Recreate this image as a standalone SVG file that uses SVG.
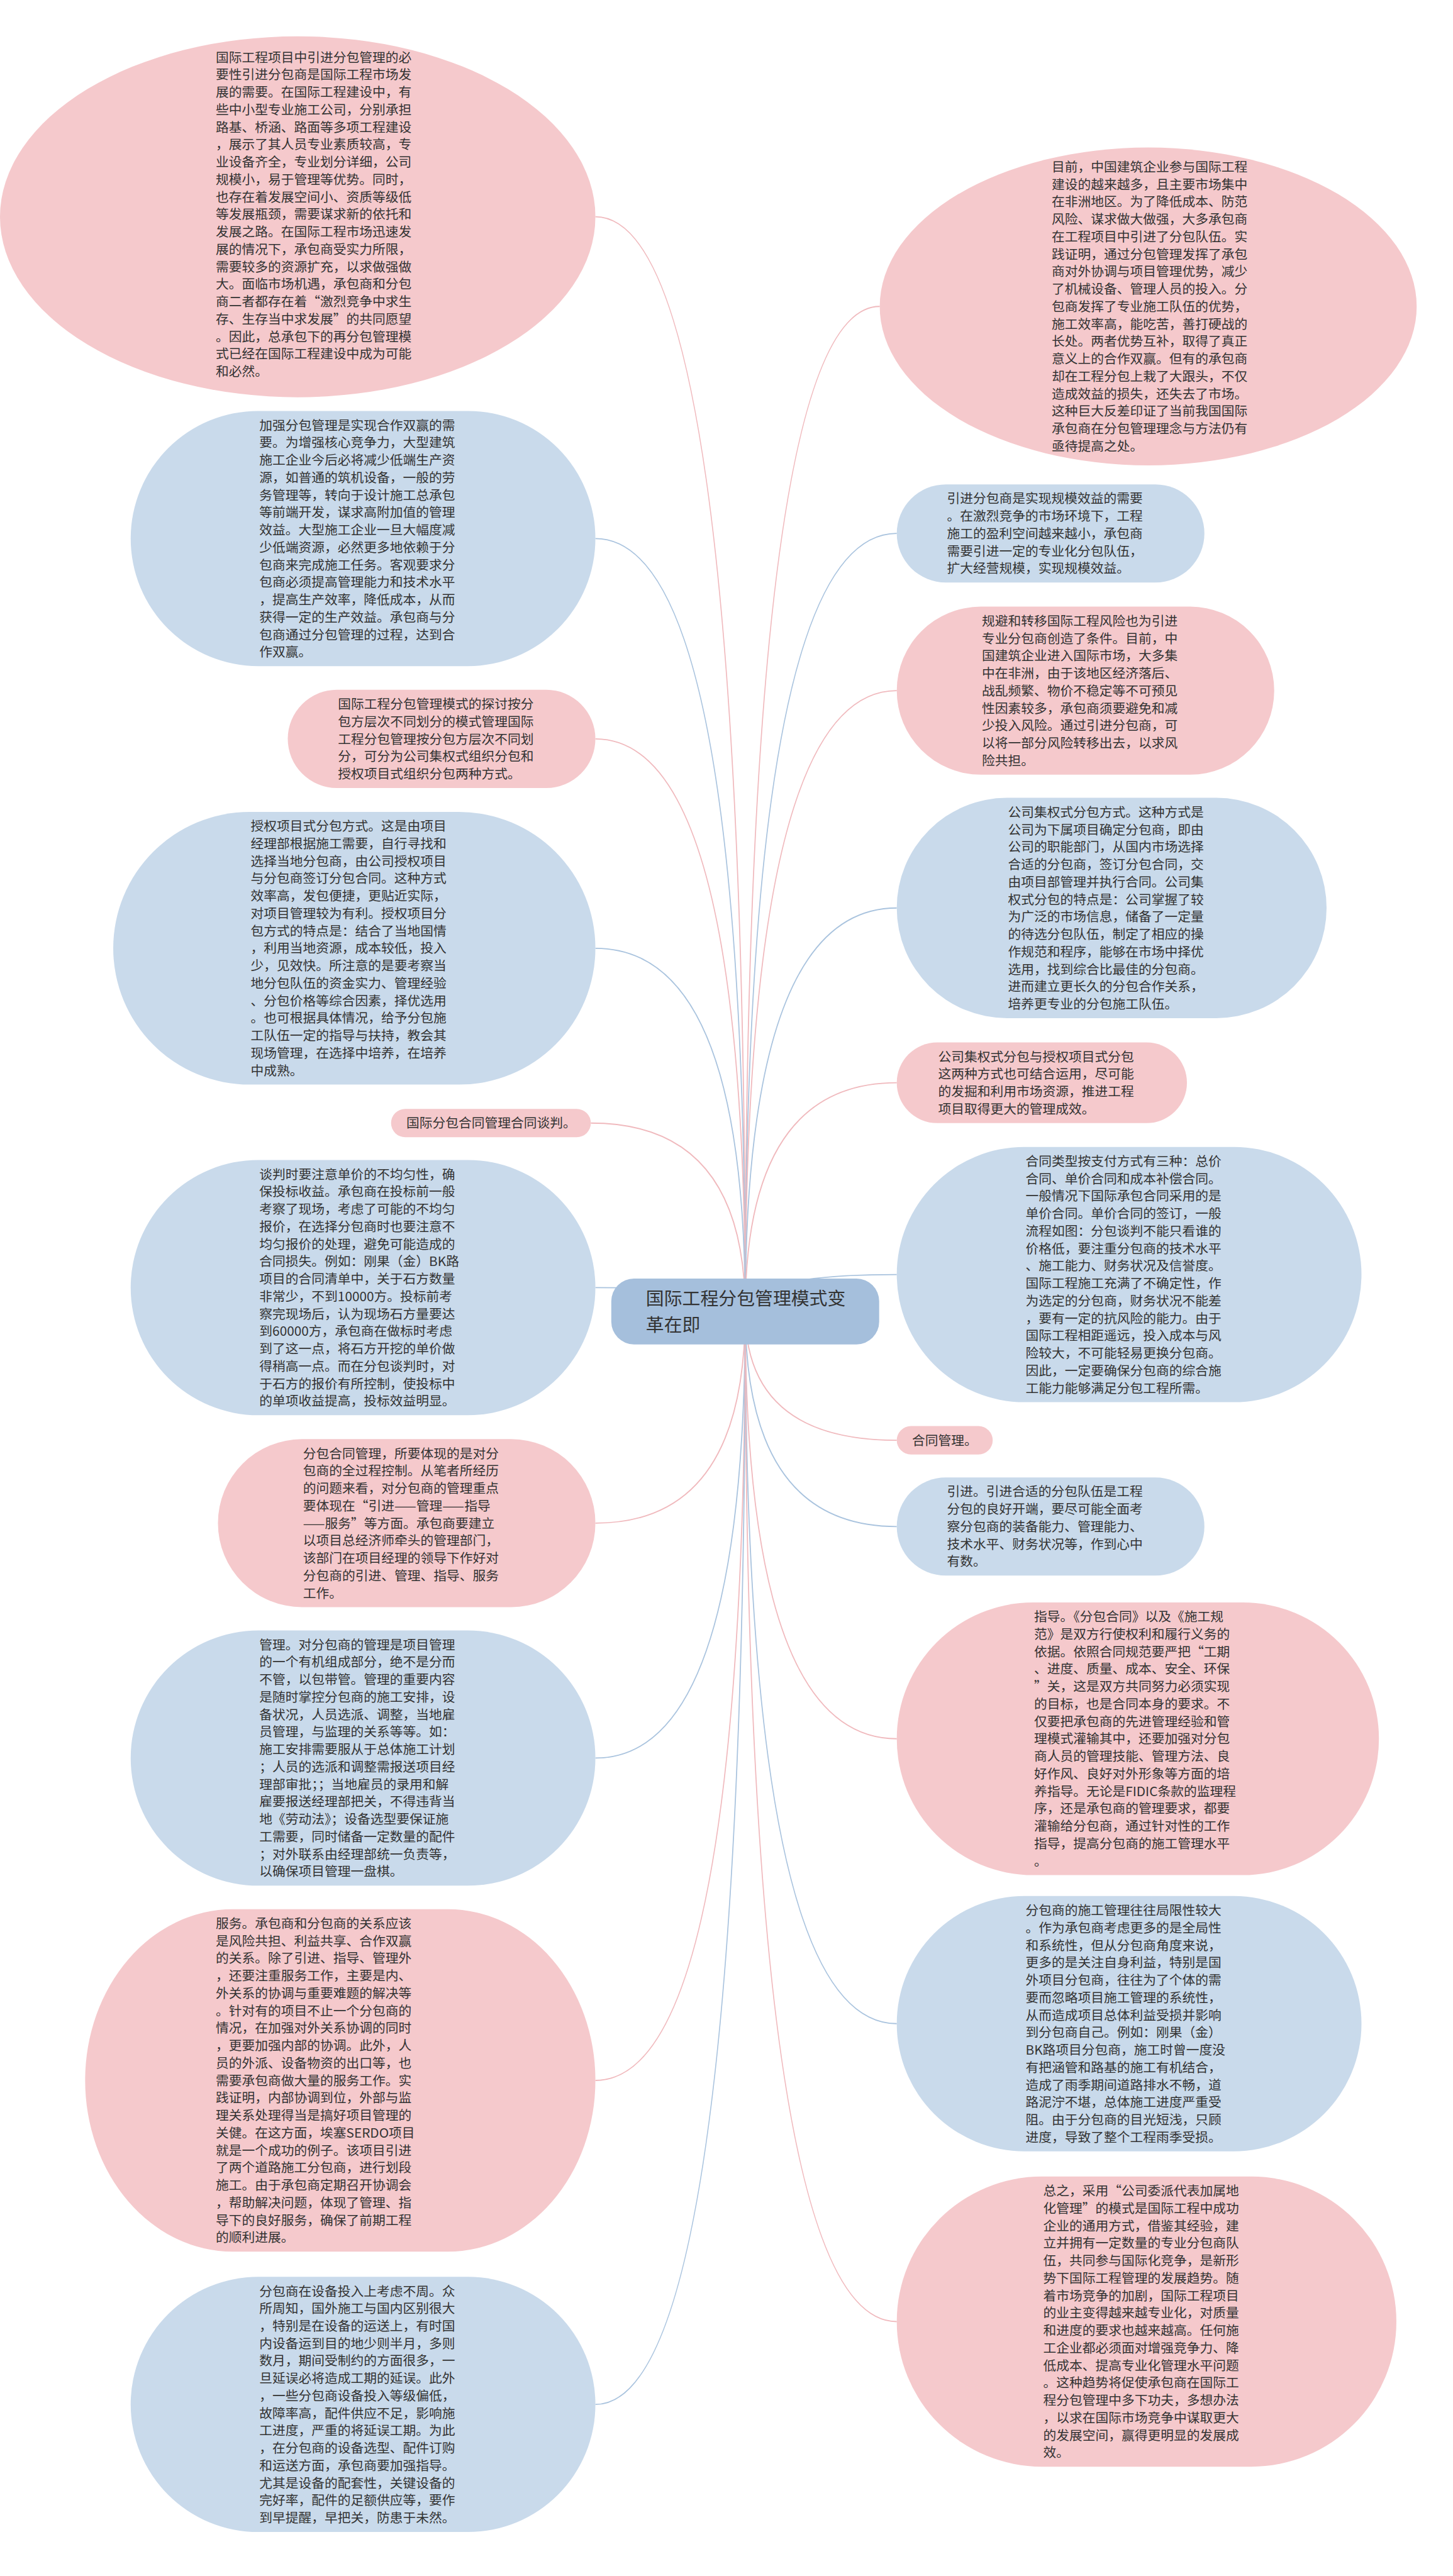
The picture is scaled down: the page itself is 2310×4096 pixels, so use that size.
<svg xmlns="http://www.w3.org/2000/svg" width="2310" height="4096" viewBox="0 0 2310 4096">
<style>
.p{fill:#f5c9cc}
.b{fill:#c9daeb}
.c{fill:#a5bfdc}
.t{font-family:"Noto Sans CJK SC","Noto Sans",sans-serif;font-size:23px;fill:#333}
.ct{font-family:"Noto Sans CJK SC","Noto Sans",sans-serif;font-size:32px;fill:#333}
.lp{fill:none;stroke:#f0b9bd;stroke-width:2}
.lb{fill:none;stroke:#a9c3de;stroke-width:2}
</style>
<rect width="2310" height="4096" fill="#ffffff"/>
<g transform="scale(0.90234)">
<g id="connectors">
<path class="lp" d="M1313,2311 Q1313,382 1049,382"/>
<path class="lb" d="M1313,2311 Q1313,949 1049,949"/>
<path class="lp" d="M1313,2311 Q1313,1302 1049,1302"/>
<path class="lb" d="M1313,2311 Q1313,1671 1049,1671"/>
<path class="lp" d="M1313,2311 Q1313,1979 1041,1979"/>
<path class="lb" d="M1313,2311 Q1313,2269 1049,2269"/>
<path class="lp" d="M1313,2311 Q1313,2684 1049,2684"/>
<path class="lb" d="M1313,2311 Q1313,3098 1049,3098"/>
<path class="lp" d="M1313,2311 Q1313,3666 1049,3666"/>
<path class="lb" d="M1313,2311 Q1313,4237 1049,4237"/>
<path class="lp" d="M1313,2311 Q1313,540 1550,540"/>
<path class="lb" d="M1313,2311 Q1313,940 1580,940"/>
<path class="lp" d="M1313,2311 Q1313,1217 1580,1217"/>
<path class="lb" d="M1313,2311 Q1313,1600 1580,1600"/>
<path class="lp" d="M1313,2311 Q1313,1908 1580,1908"/>
<path class="lb" d="M1313,2311 Q1313,2246 1580,2246"/>
<path class="lp" d="M1313,2311 Q1313,2538 1580,2538"/>
<path class="lb" d="M1313,2311 Q1313,2690 1580,2690"/>
<path class="lp" d="M1313,2311 Q1313,3064 1580,3064"/>
<path class="lb" d="M1313,2311 Q1313,3566 1580,3566"/>
<path class="lp" d="M1313,2311 Q1313,4091 1580,4091"/>
</g>
<g id="center">
<rect class="c" x="1077" y="2253" width="472" height="116" rx="40"/>
<text class="ct" x="1138" y="2300">国际工程分包管理模式变<tspan x="1138" dy="46">革在即</tspan></text>
</g>
<g id="L1">
<ellipse class="p" cx="524.5" cy="382" rx="524.5" ry="318"/>
<text class="t" x="380" y="109.25"><tspan x="380" dy="0">国际工程项目中引进分包管理的必</tspan><tspan x="380" dy="30.75">要性引进分包商是国际工程市场发</tspan><tspan x="380" dy="30.75">展的需要。在国际工程建设中，有</tspan><tspan x="380" dy="30.75">些中小型专业施工公司，分别承担</tspan><tspan x="380" dy="30.75">路基、桥涵、路面等多项工程建设</tspan><tspan x="380" dy="30.75">，展示了其人员专业素质较高，专</tspan><tspan x="380" dy="30.75">业设备齐全，专业划分详细，公司</tspan><tspan x="380" dy="30.75">规模小，易于管理等优势。同时，</tspan><tspan x="380" dy="30.75">也存在着发展空间小、资质等级低</tspan><tspan x="380" dy="30.75">等发展瓶颈，需要谋求新的依托和</tspan><tspan x="380" dy="30.75">发展之路。在国际工程市场迅速发</tspan><tspan x="380" dy="30.75">展的情况下，承包商受实力所限，</tspan><tspan x="380" dy="30.75">需要较多的资源扩充，以求做强做</tspan><tspan x="380" dy="30.75">大。面临市场机遇，承包商和分包</tspan><tspan x="380" dy="30.75">商二者都存在着“激烈竞争中求生</tspan><tspan x="380" dy="30.75">存、生存当中求发展”的共同愿望</tspan><tspan x="380" dy="30.75">。因此，总承包下的再分包管理模</tspan><tspan x="380" dy="30.75">式已经在国际工程建设中成为可能</tspan><tspan x="380" dy="30.75">和必然。</tspan></text>
</g>
<g id="L2">
<rect class="b" x="230.25" y="724.1" width="818.75" height="449.75" rx="224.9"/>
<text class="t" x="457" y="757.6"><tspan x="457" dy="0">加强分包管理是实现合作双赢的需</tspan><tspan x="457" dy="30.75">要。为增强核心竞争力，大型建筑</tspan><tspan x="457" dy="30.75">施工企业今后必将减少低端生产资</tspan><tspan x="457" dy="30.75">源，如普通的筑机设备，一般的劳</tspan><tspan x="457" dy="30.75">务管理等，转向于设计施工总承包</tspan><tspan x="457" dy="30.75">等前端开发，谋求高附加值的管理</tspan><tspan x="457" dy="30.75">效益。大型施工企业一旦大幅度减</tspan><tspan x="457" dy="30.75">少低端资源，必然更多地依赖于分</tspan><tspan x="457" dy="30.75">包商来完成施工任务。客观要求分</tspan><tspan x="457" dy="30.75">包商必须提高管理能力和技术水平</tspan><tspan x="457" dy="30.75">，提高生产效率，降低成本，从而</tspan><tspan x="457" dy="30.75">获得一定的生产效益。承包商与分</tspan><tspan x="457" dy="30.75">包商通过分包管理的过程，达到合</tspan><tspan x="457" dy="30.75">作双赢。</tspan></text>
</g>
<g id="L3">
<rect class="p" x="507" y="1215.5" width="542" height="173" rx="86.5"/>
<text class="t" x="595.5" y="1249"><tspan x="595.5" dy="0">国际工程分包管理模式的探讨按分</tspan><tspan x="595.5" dy="30.75">包方层次不同划分的模式管理国际</tspan><tspan x="595.5" dy="30.75">工程分包管理按分包方层次不同划</tspan><tspan x="595.5" dy="30.75">分，可分为公司集权式组织分包和</tspan><tspan x="595.5" dy="30.75">授权项目式组织分包两种方式。</tspan></text>
</g>
<g id="L4">
<rect class="b" x="199.5" y="1430.75" width="849.5" height="480.5" rx="240.25"/>
<text class="t" x="441.75" y="1464.25"><tspan x="441.75" dy="0">授权项目式分包方式。这是由项目</tspan><tspan x="441.75" dy="30.75">经理部根据施工需要，自行寻找和</tspan><tspan x="441.75" dy="30.75">选择当地分包商，由公司授权项目</tspan><tspan x="441.75" dy="30.75">与分包商签订分包合同。这种方式</tspan><tspan x="441.75" dy="30.75">效率高，发包便捷，更贴近实际，</tspan><tspan x="441.75" dy="30.75">对项目管理较为有利。授权项目分</tspan><tspan x="441.75" dy="30.75">包方式的特点是：结合了当地国情</tspan><tspan x="441.75" dy="30.75">，利用当地资源，成本较低，投入</tspan><tspan x="441.75" dy="30.75">少，见效快。所注意的是要考察当</tspan><tspan x="441.75" dy="30.75">地分包队伍的资金实力、管理经验</tspan><tspan x="441.75" dy="30.75">、分包价格等综合因素，择优选用</tspan><tspan x="441.75" dy="30.75">。也可根据具体情况，给予分包施</tspan><tspan x="441.75" dy="30.75">工队伍一定的指导与扶持，教会其</tspan><tspan x="441.75" dy="30.75">现场管理，在选择中培养，在培养</tspan><tspan x="441.75" dy="30.75">中成熟。</tspan></text>
</g>
<g id="L5">
<rect class="p" x="689" y="1954" width="352" height="50" rx="25"/>
<text class="t" x="716" y="1987.5">国际分包合同管理合同谈判。</text>
</g>
<g id="L6">
<rect class="b" x="230.25" y="2044.1" width="818.75" height="449.75" rx="224.9"/>
<text class="t" x="457" y="2077.6"><tspan x="457" dy="0">谈判时要注意单价的不均匀性，确</tspan><tspan x="457" dy="30.75">保投标收益。承包商在投标前一般</tspan><tspan x="457" dy="30.75">考察了现场，考虑了可能的不均匀</tspan><tspan x="457" dy="30.75">报价，在选择分包商时也要注意不</tspan><tspan x="457" dy="30.75">均匀报价的处理，避免可能造成的</tspan><tspan x="457" dy="30.75">合同损失。例如：刚果（金）BK路</tspan><tspan x="457" dy="30.75">项目的合同清单中，关于石方数量</tspan><tspan x="457" dy="30.75">非常少，不到10000方。投标前考</tspan><tspan x="457" dy="30.75">察完现场后，认为现场石方量要达</tspan><tspan x="457" dy="30.75">到60000方，承包商在做标时考虑</tspan><tspan x="457" dy="30.75">到了这一点，将石方开挖的单价做</tspan><tspan x="457" dy="30.75">得稍高一点。而在分包谈判时，对</tspan><tspan x="457" dy="30.75">于石方的报价有所控制，使投标中</tspan><tspan x="457" dy="30.75">的单项收益提高，投标效益明显。</tspan></text>
</g>
<g id="L7">
<rect class="p" x="384" y="2536" width="665" height="296" rx="148"/>
<text class="t" x="534" y="2569.5"><tspan x="534" dy="0">分包合同管理，所要体现的是对分</tspan><tspan x="534" dy="30.75">包商的全过程控制。从笔者所经历</tspan><tspan x="534" dy="30.75">的问题来看，对分包商的管理重点</tspan><tspan x="534" dy="30.75">要体现在“引进——管理——指导</tspan><tspan x="534" dy="30.75">——服务”等方面。承包商要建立</tspan><tspan x="534" dy="30.75">以项目总经济师牵头的管理部门，</tspan><tspan x="534" dy="30.75">该部门在项目经理的领导下作好对</tspan><tspan x="534" dy="30.75">分包商的引进、管理、指导、服务</tspan><tspan x="534" dy="30.75">工作。</tspan></text>
</g>
<g id="L8">
<rect class="b" x="230.25" y="2873.1" width="818.75" height="449.75" rx="224.9"/>
<text class="t" x="457" y="2906.6"><tspan x="457" dy="0">管理。对分包商的管理是项目管理</tspan><tspan x="457" dy="30.75">的一个有机组成部分，绝不是分而</tspan><tspan x="457" dy="30.75">不管，以包带管。管理的重要内容</tspan><tspan x="457" dy="30.75">是随时掌控分包商的施工安排，设</tspan><tspan x="457" dy="30.75">备状况，人员选派、调整，当地雇</tspan><tspan x="457" dy="30.75">员管理，与监理的关系等等。如：</tspan><tspan x="457" dy="30.75">施工安排需要服从于总体施工计划</tspan><tspan x="457" dy="30.75">；人员的选派和调整需报送项目经</tspan><tspan x="457" dy="30.75">理部审批；；当地雇员的录用和解</tspan><tspan x="457" dy="30.75">雇要报送经理部把关，不得违背当</tspan><tspan x="457" dy="30.75">地《劳动法》；设备选型要保证施</tspan><tspan x="457" dy="30.75">工需要，同时储备一定数量的配件</tspan><tspan x="457" dy="30.75">；对外联系由经理部统一负责等，</tspan><tspan x="457" dy="30.75">以确保项目管理一盘棋。</tspan></text>
</g>
<g id="L9">
<rect class="p" x="150" y="3364.25" width="899" height="603.5" rx="260" ry="301.75"/>
<text class="t" x="380.25" y="3397.75"><tspan x="380.25" dy="0">服务。承包商和分包商的关系应该</tspan><tspan x="380.25" dy="30.75">是风险共担、利益共享、合作双赢</tspan><tspan x="380.25" dy="30.75">的关系。除了引进、指导、管理外</tspan><tspan x="380.25" dy="30.75">，还要注重服务工作，主要是内、</tspan><tspan x="380.25" dy="30.75">外关系的协调与重要难题的解决等</tspan><tspan x="380.25" dy="30.75">。针对有的项目不止一个分包商的</tspan><tspan x="380.25" dy="30.75">情况，在加强对外关系协调的同时</tspan><tspan x="380.25" dy="30.75">，更要加强内部的协调。此外，人</tspan><tspan x="380.25" dy="30.75">员的外派、设备物资的出口等，也</tspan><tspan x="380.25" dy="30.75">需要承包商做大量的服务工作。实</tspan><tspan x="380.25" dy="30.75">践证明，内部协调到位，外部与监</tspan><tspan x="380.25" dy="30.75">理关系处理得当是搞好项目管理的</tspan><tspan x="380.25" dy="30.75">关健。在这方面，埃塞SERDO项目</tspan><tspan x="380.25" dy="30.75">就是一个成功的例子。该项目引进</tspan><tspan x="380.25" dy="30.75">了两个道路施工分包商，进行划段</tspan><tspan x="380.25" dy="30.75">施工。由于承包商定期召开协调会</tspan><tspan x="380.25" dy="30.75">，帮助解决问题，体现了管理、指</tspan><tspan x="380.25" dy="30.75">导下的良好服务，确保了前期工程</tspan><tspan x="380.25" dy="30.75">的顺利进展。</tspan></text>
</g>
<g id="L10">
<rect class="b" x="230.25" y="4012.1" width="818.75" height="449.75" rx="224.9"/>
<text class="t" x="457" y="4045.6"><tspan x="457" dy="0">分包商在设备投入上考虑不周。众</tspan><tspan x="457" dy="30.75">所周知，国外施工与国内区别很大</tspan><tspan x="457" dy="30.75">，特别是在设备的运送上，有时国</tspan><tspan x="457" dy="30.75">内设备运到目的地少则半月，多则</tspan><tspan x="457" dy="30.75">数月，期间受制约的方面很多，一</tspan><tspan x="457" dy="30.75">旦延误必将造成工期的延误。此外</tspan><tspan x="457" dy="30.75">，一些分包商设备投入等级偏低，</tspan><tspan x="457" dy="30.75">故障率高，配件供应不足，影响施</tspan><tspan x="457" dy="30.75">工进度，严重的将延误工期。为此</tspan><tspan x="457" dy="30.75">，在分包商的设备选型、配件订购</tspan><tspan x="457" dy="30.75">和运送方面，承包商要加强指导。</tspan><tspan x="457" dy="30.75">尤其是设备的配套性，关键设备的</tspan><tspan x="457" dy="30.75">完好率，配件的足额供应等，要作</tspan><tspan x="457" dy="30.75">到早提醒，早把关，防患于未然。</tspan></text>
</g>
<g id="R1">
<ellipse class="p" cx="2023" cy="540" rx="473" ry="280"/>
<text class="t" x="1853" y="302.5"><tspan x="1853" dy="0">目前，中国建筑企业参与国际工程</tspan><tspan x="1853" dy="30.75">建设的越来越多，且主要市场集中</tspan><tspan x="1853" dy="30.75">在非洲地区。为了降低成本、防范</tspan><tspan x="1853" dy="30.75">风险、谋求做大做强，大多承包商</tspan><tspan x="1853" dy="30.75">在工程项目中引进了分包队伍。实</tspan><tspan x="1853" dy="30.75">践证明，通过分包管理发挥了承包</tspan><tspan x="1853" dy="30.75">商对外协调与项目管理优势，减少</tspan><tspan x="1853" dy="30.75">了机械设备、管理人员的投入。分</tspan><tspan x="1853" dy="30.75">包商发挥了专业施工队伍的优势，</tspan><tspan x="1853" dy="30.75">施工效率高，能吃苦，善打硬战的</tspan><tspan x="1853" dy="30.75">长处。两者优势互补，取得了真正</tspan><tspan x="1853" dy="30.75">意义上的合作双赢。但有的承包商</tspan><tspan x="1853" dy="30.75">却在工程分包上栽了大跟头，不仅</tspan><tspan x="1853" dy="30.75">造成效益的损失，还失去了市场。</tspan><tspan x="1853" dy="30.75">这种巨大反差印证了当前我国国际</tspan><tspan x="1853" dy="30.75">承包商在分包管理理念与方法仍有</tspan><tspan x="1853" dy="30.75">亟待提高之处。</tspan></text>
</g>
<g id="R2">
<rect class="b" x="1580" y="853.5" width="542" height="173" rx="86.5"/>
<text class="t" x="1668.5" y="887"><tspan x="1668.5" dy="0">引进分包商是实现规模效益的需要</tspan><tspan x="1668.5" dy="30.75">。在激烈竞争的市场环境下，工程</tspan><tspan x="1668.5" dy="30.75">施工的盈利空间越来越小，承包商</tspan><tspan x="1668.5" dy="30.75">需要引进一定的专业化分包队伍，</tspan><tspan x="1668.5" dy="30.75">扩大经营规模，实现规模效益。</tspan></text>
</g>
<g id="R3">
<rect class="p" x="1580" y="1069" width="665" height="296" rx="148"/>
<text class="t" x="1730" y="1102.5"><tspan x="1730" dy="0">规避和转移国际工程风险也为引进</tspan><tspan x="1730" dy="30.75">专业分包商创造了条件。目前，中</tspan><tspan x="1730" dy="30.75">国建筑企业进入国际市场，大多集</tspan><tspan x="1730" dy="30.75">中在非洲，由于该地区经济落后、</tspan><tspan x="1730" dy="30.75">战乱频繁、物价不稳定等不可预见</tspan><tspan x="1730" dy="30.75">性因素较多，承包商须要避免和减</tspan><tspan x="1730" dy="30.75">少投入风险。通过引进分包商，可</tspan><tspan x="1730" dy="30.75">以将一部分风险转移出去，以求风</tspan><tspan x="1730" dy="30.75">险共担。</tspan></text>
</g>
<g id="R4">
<rect class="b" x="1580" y="1405.9" width="757.25" height="388.25" rx="194.1"/>
<text class="t" x="1776" y="1439.4"><tspan x="1776" dy="0">公司集权式分包方式。这种方式是</tspan><tspan x="1776" dy="30.75">公司为下属项目确定分包商，即由</tspan><tspan x="1776" dy="30.75">公司的职能部门，从国内市场选择</tspan><tspan x="1776" dy="30.75">合适的分包商，签订分包合同，交</tspan><tspan x="1776" dy="30.75">由项目部管理并执行合同。公司集</tspan><tspan x="1776" dy="30.75">权式分包的特点是：公司掌握了较</tspan><tspan x="1776" dy="30.75">为广泛的市场信息，储备了一定量</tspan><tspan x="1776" dy="30.75">的待选分包队伍，制定了相应的操</tspan><tspan x="1776" dy="30.75">作规范和程序，能够在市场中择优</tspan><tspan x="1776" dy="30.75">选用，找到综合比最佳的分包商。</tspan><tspan x="1776" dy="30.75">进而建立更长久的分包合作关系，</tspan><tspan x="1776" dy="30.75">培养更专业的分包施工队伍。</tspan></text>
</g>
<g id="R5">
<rect class="p" x="1580" y="1836.9" width="511.25" height="142.25" rx="71.1"/>
<text class="t" x="1653" y="1870.4"><tspan x="1653" dy="0">公司集权式分包与授权项目式分包</tspan><tspan x="1653" dy="30.75">这两种方式也可结合运用，尽可能</tspan><tspan x="1653" dy="30.75">的发掘和利用市场资源，推进工程</tspan><tspan x="1653" dy="30.75">项目取得更大的管理成效。</tspan></text>
</g>
<g id="R6">
<rect class="b" x="1580" y="2021.1" width="818.75" height="449.75" rx="224.9"/>
<text class="t" x="1807" y="2054.6"><tspan x="1807" dy="0">合同类型按支付方式有三种：总价</tspan><tspan x="1807" dy="30.75">合同、单价合同和成本补偿合同。</tspan><tspan x="1807" dy="30.75">一般情况下国际承包合同采用的是</tspan><tspan x="1807" dy="30.75">单价合同。单价合同的签订，一般</tspan><tspan x="1807" dy="30.75">流程如图：分包谈判不能只看谁的</tspan><tspan x="1807" dy="30.75">价格低，要注重分包商的技术水平</tspan><tspan x="1807" dy="30.75">、施工能力、财务状况及信誉度。</tspan><tspan x="1807" dy="30.75">国际工程施工充满了不确定性，作</tspan><tspan x="1807" dy="30.75">为选定的分包商，财务状况不能差</tspan><tspan x="1807" dy="30.75">，要有一定的抗风险的能力。由于</tspan><tspan x="1807" dy="30.75">国际工程相距遥远，投入成本与风</tspan><tspan x="1807" dy="30.75">险较大，不可能轻易更换分包商。</tspan><tspan x="1807" dy="30.75">因此，一定要确保分包商的综合施</tspan><tspan x="1807" dy="30.75">工能力能够满足分包工程所需。</tspan></text>
</g>
<g id="R7">
<rect class="p" x="1580" y="2513" width="169" height="50" rx="25"/>
<text class="t" x="1607" y="2546.5">合同管理。</text>
</g>
<g id="R8">
<rect class="b" x="1580" y="2603.5" width="542" height="173" rx="86.5"/>
<text class="t" x="1668.5" y="2637"><tspan x="1668.5" dy="0">引进。引进合适的分包队伍是工程</tspan><tspan x="1668.5" dy="30.75">分包的良好开端，要尽可能全面考</tspan><tspan x="1668.5" dy="30.75">察分包商的装备能力、管理能力、</tspan><tspan x="1668.5" dy="30.75">技术水平、财务状况等，作到心中</tspan><tspan x="1668.5" dy="30.75">有数。</tspan></text>
</g>
<g id="R9">
<rect class="p" x="1580" y="2823.75" width="849.5" height="480.5" rx="240.25"/>
<text class="t" x="1822" y="2857.25"><tspan x="1822" dy="0">指导。《分包合同》以及《施工规</tspan><tspan x="1822" dy="30.75">范》是双方行使权利和履行义务的</tspan><tspan x="1822" dy="30.75">依据。依照合同规范要严把“工期</tspan><tspan x="1822" dy="30.75">、进度、质量、成本、安全、环保</tspan><tspan x="1822" dy="30.75">”关，这是双方共同努力必须实现</tspan><tspan x="1822" dy="30.75">的目标，也是合同本身的要求。不</tspan><tspan x="1822" dy="30.75">仅要把承包商的先进管理经验和管</tspan><tspan x="1822" dy="30.75">理模式灌输其中，还要加强对分包</tspan><tspan x="1822" dy="30.75">商人员的管理技能、管理方法、良</tspan><tspan x="1822" dy="30.75">好作风、良好对外形象等方面的培</tspan><tspan x="1822" dy="30.75">养指导。无论是FIDIC条款的监理程</tspan><tspan x="1822" dy="30.75">序，还是承包商的管理要求，都要</tspan><tspan x="1822" dy="30.75">灌输给分包商，通过针对性的工作</tspan><tspan x="1822" dy="30.75">指导，提高分包商的施工管理水平</tspan><tspan x="1822" dy="30.75">。</tspan></text>
</g>
<g id="R10">
<rect class="b" x="1580" y="3341.1" width="818.75" height="449.75" rx="224.9"/>
<text class="t" x="1807" y="3374.6"><tspan x="1807" dy="0">分包商的施工管理往往局限性较大</tspan><tspan x="1807" dy="30.75">。作为承包商考虑更多的是全局性</tspan><tspan x="1807" dy="30.75">和系统性，但从分包商角度来说，</tspan><tspan x="1807" dy="30.75">更多的是关注自身利益，特别是国</tspan><tspan x="1807" dy="30.75">外项目分包商，往往为了个体的需</tspan><tspan x="1807" dy="30.75">要而忽略项目施工管理的系统性，</tspan><tspan x="1807" dy="30.75">从而造成项目总体利益受损并影响</tspan><tspan x="1807" dy="30.75">到分包商自己。例如：刚果（金）</tspan><tspan x="1807" dy="30.75">BK路项目分包商，施工时曾一度没</tspan><tspan x="1807" dy="30.75">有把涵管和路基的施工有机结合，</tspan><tspan x="1807" dy="30.75">造成了雨季期间道路排水不畅，道</tspan><tspan x="1807" dy="30.75">路泥泞不堪，总体施工进度严重受</tspan><tspan x="1807" dy="30.75">阻。由于分包商的目光短浅，只顾</tspan><tspan x="1807" dy="30.75">进度，导致了整个工程雨季受损。</tspan></text>
</g>
<g id="R11">
<rect class="p" x="1580" y="3835.4" width="880.25" height="511.25" rx="255.6"/>
<text class="t" x="1838" y="3868.9"><tspan x="1838" dy="0">总之，采用“公司委派代表加属地</tspan><tspan x="1838" dy="30.75">化管理”的模式是国际工程中成功</tspan><tspan x="1838" dy="30.75">企业的通用方式，借鉴其经验，建</tspan><tspan x="1838" dy="30.75">立并拥有一定数量的专业分包商队</tspan><tspan x="1838" dy="30.75">伍，共同参与国际化竞争，是新形</tspan><tspan x="1838" dy="30.75">势下国际工程管理的发展趋势。随</tspan><tspan x="1838" dy="30.75">着市场竞争的加剧，国际工程项目</tspan><tspan x="1838" dy="30.75">的业主变得越来越专业化，对质量</tspan><tspan x="1838" dy="30.75">和进度的要求也越来越高。任何施</tspan><tspan x="1838" dy="30.75">工企业都必须面对增强竞争力、降</tspan><tspan x="1838" dy="30.75">低成本、提高专业化管理水平问题</tspan><tspan x="1838" dy="30.75">。这种趋势将促使承包商在国际工</tspan><tspan x="1838" dy="30.75">程分包管理中多下功夫，多想办法</tspan><tspan x="1838" dy="30.75">，以求在国际市场竞争中谋取更大</tspan><tspan x="1838" dy="30.75">的发展空间，赢得更明显的发展成</tspan><tspan x="1838" dy="30.75">效。</tspan></text>
</g>
</g>
</svg>
